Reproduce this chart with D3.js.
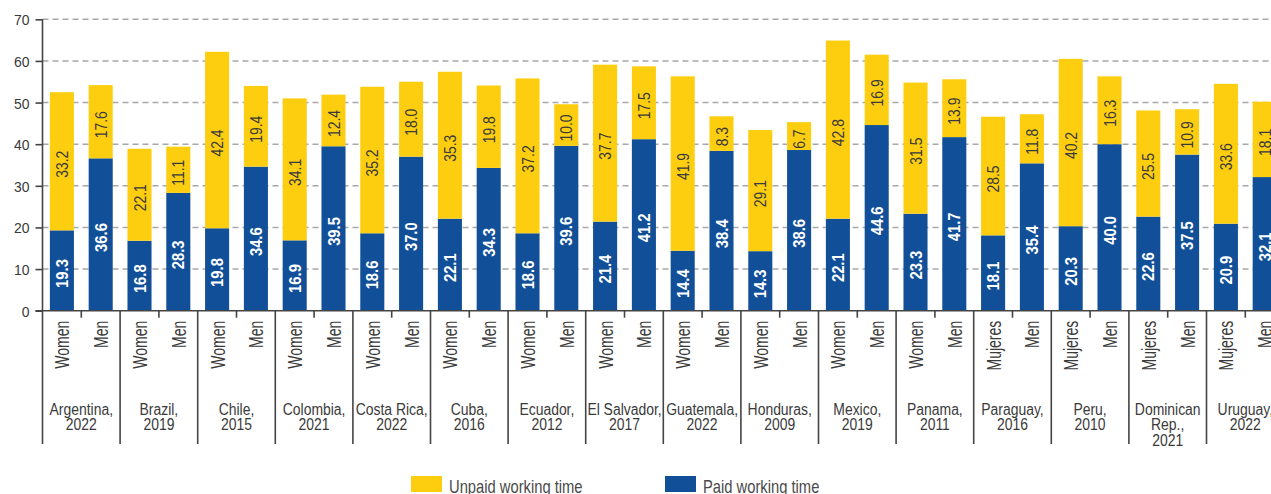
<!DOCTYPE html>
<html>
<head>
<meta charset="utf-8">
<script src="https://cdn.jsdelivr.net/npm/d3@7/dist/d3.min.js"></script>
<style>
  html, body { margin: 0; padding: 0; background: #fff; overflow: hidden; }
  svg { display: block; font-family: "Liberation Sans", Arial, sans-serif; }
</style>
</head>
<body>
<svg id="chart" width="1271" height="494"></svg>
<script>
// Country / survey year labels (line breaks as drawn)
const countries = [
  ["Argentina,", "2022"], ["Brazil,", "2019"], ["Chile,", "2015"], ["Colombia,", "2021"],
  ["Costa Rica,", "2022"], ["Cuba,", "2016"], ["Ecuador,", "2012"], ["El Salvador,", "2017"],
  ["Guatemala,", "2022"], ["Honduras,", "2009"], ["Mexico,", "2019"], ["Panama,", "2011"],
  ["Paraguay,", "2016"], ["Peru,", "2010"], ["Dominican", "Rep.,", "2021"], ["Uruguay,", "2022"]
];
const womenLabels = [
  "Women", "Women", "Women", "Women", "Women", "Women", "Women", "Women",
  "Women", "Women", "Women", "Women", "Mujeres", "Mujeres", "Mujeres", "Mujeres"
];
const menLabel = "Men";

// Hours per week
const womenPaid   = [19.3, 16.8, 19.8, 16.9, 18.6, 22.1, 18.6, 21.4, 14.4, 14.3, 22.1, 23.3, 18.1, 20.3, 22.6, 20.9];
const womenUnpaid = [33.2, 22.1, 42.4, 34.1, 35.2, 35.3, 37.2, 37.7, 41.9, 29.1, 42.8, 31.5, 28.5, 40.2, 25.5, 33.6];
const menPaid     = [36.6, 28.3, 34.6, 39.5, 37.0, 34.3, 39.6, 41.2, 38.4, 38.6, 44.6, 41.7, 35.4, 40.0, 37.5, 32.1];
const menUnpaid   = [17.6, 11.1, 19.4, 12.4, 18.0, 19.8, 10.0, 17.5, 8.3, 6.7, 16.9, 13.9, 11.8, 16.3, 10.9, 18.1];

const yTicks = [0, 10, 20, 30, 40, 50, 60, 70];
const seriesNames = ["Unpaid working time", "Paid working time"];

const COLOR_PAID = "#124f99";
const COLOR_UNPAID = "#fdce10";
const AXIS = "#444";
const TEXT = "#3a3a3a";

const svg = d3.select("#chart");
const plotLeft = 42.5, groupW = 77.6;
const plotTop = 19.3, plotBottom = 310.7;

const groups = d3.range(countries.length);
const x0 = d3.scaleBand().domain(groups).range([plotLeft, plotLeft + groupW * groups.length]).paddingInner(0).paddingOuter(0);
const x1 = d3.scaleBand().domain(["W", "M"]).range([0, groupW]).paddingInner(0.38).paddingOuter(0.19);
const y = d3.scaleLinear().domain([0, 70]).range([plotBottom, plotTop]);

// Horizontal dashed grid
svg.append("g").selectAll("line")
  .data(yTicks.filter(d => d > 0))
  .join("line")
  .attr("x1", plotLeft).attr("x2", 1271)
  .attr("y1", d => y(d)).attr("y2", d => y(d))
  .attr("stroke", "#a8a8a8").attr("stroke-width", 1.6)
  .attr("stroke-dasharray", "6,4");

// Rows: one per bar
const rows = [];
groups.forEach(i => {
  rows.push({ g: i, k: "W", paid: womenPaid[i], unpaid: womenUnpaid[i], label: womenLabels[i] });
  rows.push({ g: i, k: "M", paid: menPaid[i], unpaid: menUnpaid[i], label: menLabel });
});
const bx = d => x0(d.g) + x1(d.k);
const bw = x1.bandwidth();

const bars = svg.append("g");
// Paid segment (bottom)
bars.selectAll("rect.paid").data(rows).join("rect")
  .attr("class", "paid")
  .attr("x", bx).attr("width", bw)
  .attr("y", d => y(d.paid)).attr("height", d => y(0) - y(d.paid))
  .attr("fill", COLOR_PAID);
// Unpaid segment (stacked on top)
bars.selectAll("rect.unpaid").data(rows).join("rect")
  .attr("class", "unpaid")
  .attr("x", bx).attr("width", bw)
  .attr("y", d => y(d.paid + d.unpaid)).attr("height", d => y(d.paid) - y(d.paid + d.unpaid))
  .attr("fill", COLOR_UNPAID);

// Value labels, rotated inside segments (condensed horizontally along the text)
const fmt = d3.format(".1f");
bars.selectAll("text.pv").data(rows).join("text")
  .attr("class", "pv")
  .attr("transform", d => `translate(${bx(d) + bw / 2 + 6},${y(d.paid / 2) + 3}) rotate(-90) scale(0.87,1)`)
  .attr("text-anchor", "middle")
  .attr("font-size", 17).attr("font-weight", "bold").attr("fill", "#fff")
  .text(d => fmt(d.paid));
bars.selectAll("text.uv").data(rows).join("text")
  .attr("class", "uv")
  .attr("transform", d => `translate(${bx(d) + bw / 2 + 6},${y(d.paid + d.unpaid / 2) + 3}) rotate(-90) scale(0.82,1)`)
  .attr("text-anchor", "middle")
  .attr("font-size", 17).attr("fill", TEXT)
  .text(d => fmt(d.unpaid));

// Y axis
const yAxis = svg.append("g").attr("transform", `translate(${plotLeft},0)`)
  .call(d3.axisLeft(y).tickValues(yTicks).tickSize(7).tickPadding(5).tickFormat(d3.format("d")));
yAxis.select(".domain").attr("stroke", AXIS).attr("stroke-width", 1.6).attr("d", `M0,${plotTop}V${plotBottom}`);
yAxis.selectAll(".tick line").attr("stroke", AXIS).attr("stroke-width", 1.6);
yAxis.selectAll(".tick text")
  .attr("font-size", 15.5).attr("fill", TEXT).attr("font-family", null)
  .attr("x", 0).attr("dy", null).attr("y", 5.5)
  .attr("transform", "translate(-13,0) scale(0.9,1)");

// X baseline
svg.append("line").attr("x1", plotLeft - 7).attr("x2", 1271).attr("y1", plotBottom).attr("y2", plotBottom)
  .attr("stroke", AXIS).attr("stroke-width", 1.6);

// Group separators and inner ticks
const sepBottom = 444;
svg.append("g").selectAll("line").data(groups.concat([groups.length]))
  .join("line")
  .attr("x1", i => plotLeft + groupW * i).attr("x2", i => plotLeft + groupW * i)
  .attr("y1", plotBottom).attr("y2", sepBottom)
  .attr("stroke", AXIS).attr("stroke-width", 1.6);
svg.append("g").selectAll("line").data(groups)
  .join("line")
  .attr("x1", i => x0(i) + groupW / 2).attr("x2", i => x0(i) + groupW / 2)
  .attr("y1", plotBottom).attr("y2", plotBottom + 7)
  .attr("stroke", AXIS).attr("stroke-width", 1.6);

// Sex labels (rotated, condensed)
svg.append("g").selectAll("text").data(rows).join("text")
  .attr("transform", d => `translate(${bx(d) + bw / 2 + 7.5},${plotBottom + 10}) rotate(-90) scale(0.7,1)`)
  .attr("text-anchor", "end")
  .attr("font-size", 20).attr("fill", TEXT)
  .text(d => d.label);

// Country labels
const cl = svg.append("g").selectAll("text").data(groups).join("text")
  .attr("transform", i => `translate(${x0(i) + groupW / 2},414.5) scale(0.87,1)`)
  .attr("text-anchor", "middle").attr("font-size", 16).attr("fill", TEXT);
cl.selectAll("tspan").data(i => countries[i]).join("tspan")
  .attr("x", 0)
  .attr("dy", (d, j) => j === 0 ? 0 : 15.6)
  .text(d => d);

// Legend
const legend = svg.append("g");
const legendItems = [
  { name: seriesNames[0], color: COLOR_UNPAID, x: 411 },
  { name: seriesNames[1], color: COLOR_PAID, x: 665 }
];
legendItems.forEach(it => {
  legend.append("rect").attr("x", it.x).attr("y", 476).attr("width", 31).attr("height", 16).attr("fill", it.color);
  legend.append("text").attr("transform", `translate(${it.x + 38},493) scale(0.82,1)`)
    .attr("font-size", 18).attr("fill", "#4a4a4a").text(it.name);
});
</script>
</body>
</html>
